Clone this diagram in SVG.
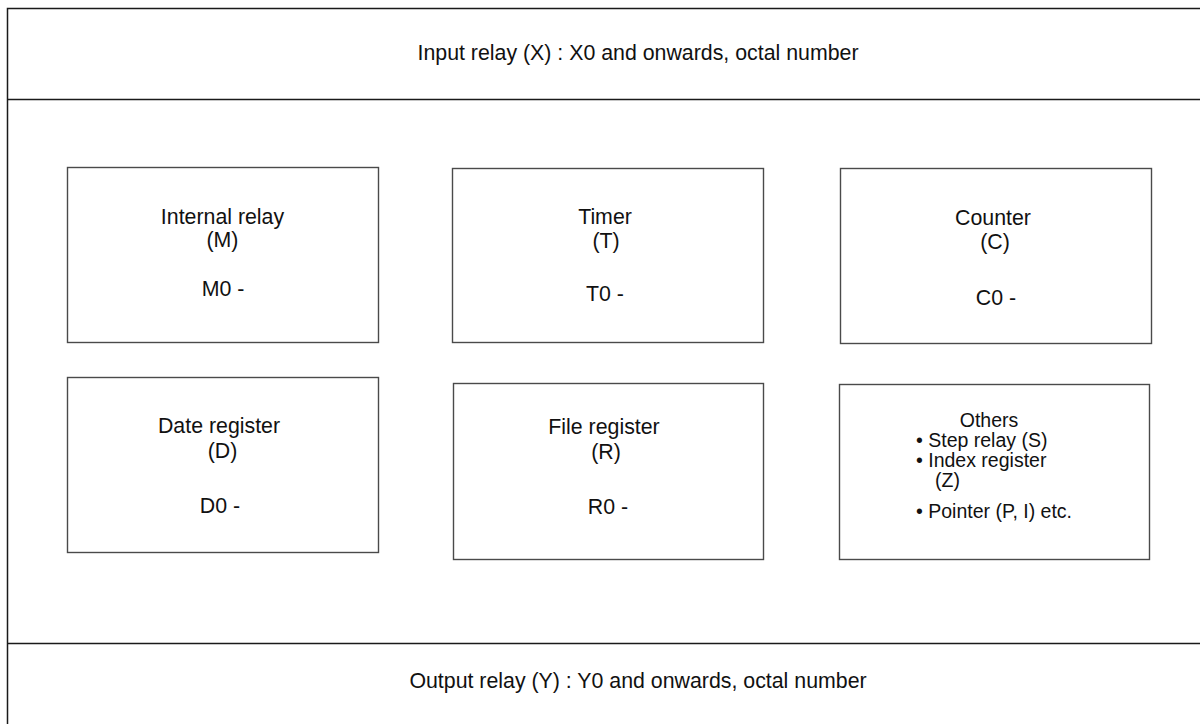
<svg xmlns="http://www.w3.org/2000/svg" width="1200" height="724" viewBox="0 0 1200 724">
<style>
.frame{fill:none;stroke:#1a1a1a;stroke-width:1.5}
.box{fill:#fff;stroke:#4a4a4a;stroke-width:1.4}
text{font-family:"Liberation Sans",Arial,sans-serif;font-size:21.33px;fill:#111}
.c{text-anchor:middle}
.sm{font-size:19.5px}
</style>
<rect width="1200" height="724" fill="#fff"/>
<g id="frame">
<path class="frame" d="M7.5 724V8.5H1200M7.5 99.5H1200M7.5 643.5H1200"/>
</g>
<g id="input-relay">
<text class="c" x="638" y="60">Input relay (X) : X0 and onwards, octal number</text>
</g>
<g id="output-relay">
<text class="c" x="638" y="688">Output relay (Y) : Y0 and onwards, octal number</text>
</g>
<g id="internal-relay">
<rect class="box" x="67.5" y="167.5" width="311" height="175"/>
<text class="c" x="222.5" y="224">Internal relay</text>
<text class="c" x="222.5" y="247">(M)</text>
<text class="c" x="223" y="296">M0 -</text>
</g>
<g id="timer">
<rect class="box" x="452.5" y="168.5" width="311" height="174"/>
<text class="c" x="605" y="224">Timer</text>
<text class="c" x="606" y="248">(T)</text>
<text class="c" x="605" y="301">T0 -</text>
</g>
<g id="counter">
<rect class="box" x="840.5" y="168.5" width="311" height="175"/>
<text class="c" x="993" y="225">Counter</text>
<text class="c" x="995" y="249">(C)</text>
<text class="c" x="996" y="305">C0 -</text>
</g>
<g id="data-register">
<rect class="box" x="67.5" y="377.5" width="311" height="175"/>
<text class="c" x="219" y="433">Date register</text>
<text class="c" x="222.5" y="458">(D)</text>
<text class="c" x="220" y="513">D0 -</text>
</g>
<g id="file-register">
<rect class="box" x="453.5" y="383.5" width="310" height="176"/>
<text class="c" x="604" y="434">File register</text>
<text class="c" x="606" y="459">(R)</text>
<text class="c" x="608" y="514">R0 -</text>
</g>
<g id="others">
<rect class="box" x="839.5" y="384.5" width="310" height="175"/>
<text class="c sm" x="989" y="427">Others</text>
<text class="sm" x="916" y="447">• Step relay (S)</text>
<text class="sm" x="916" y="467">• Index register</text>
<text class="sm" x="935" y="487">(Z)</text>
<text class="sm" x="916" y="518">• Pointer (P, I) etc.</text>
</g>
<g id="connectors"/>
</svg>
